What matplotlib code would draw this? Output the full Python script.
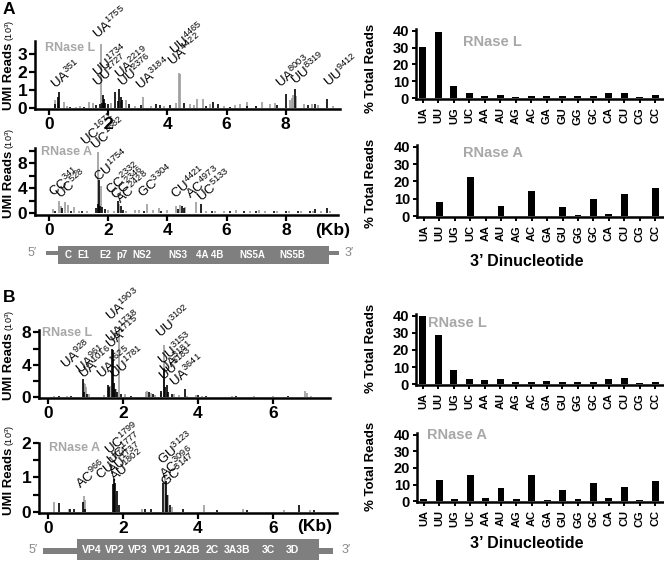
import matplotlib
matplotlib.use("Agg")
import matplotlib.pyplot as plt
from matplotlib.patches import Rectangle

plt.rcParams['font.family'] = ['Liberation Sans', 'DejaVu Sans']
plt.rcParams['mathtext.fontset'] = 'custom'
plt.rcParams['mathtext.rm'] = 'Liberation Sans'
plt.rcParams['mathtext.it'] = 'Liberation Sans'
plt.rcParams['mathtext.bf'] = 'Liberation Sans:bold'

# ---------------- data ----------------
dinucleotides = ['UA', 'UU', 'UG', 'UC', 'AA', 'AU', 'AG', 'AC',
                 'GA', 'GU', 'GG', 'GC', 'CA', 'CU', 'CG', 'CC']
hcv_rnasel_pct = [30.5, 39, 7, 3, 1.2, 2, 0.6, 1, 1, 1.5, 1, 1.2, 3.2, 3, 0.6, 2]
hcv_rnasea_pct = [0.2, 8, 0.2, 22.5, 0.2, 6, 0.2, 14.5, 0.2, 5.5, 0.8, 9.8, 1.5, 12.5, 0.3, 16.2]
pv_rnasel_pct = [40, 28.5, 8, 2.8, 2.2, 3.2, 1, 1.5, 1.8, 1, 1, 1, 3.2, 3.8, 0.5, 1.5]
pv_rnasea_pct = [1.2, 13, 1.2, 16, 2.2, 8, 1.5, 15.8, 1, 7, 1.2, 10.8, 2.2, 8.8, 0.5, 12]

# HCV, RNase L (UMI reads, 10^3)
hcv_L_gray_kb = [0.2, 0.3, 0.5, 0.62, 0.9, 1.05, 1.35, 1.5, 1.755, 2.1, 2.45, 2.6, 2.9, 3.18, 3.45,
                 3.9, 4.3, 4.40, 4.44, 4.75, 4.9, 5.0, 5.2, 5.45, 5.9, 6.3, 6.45, 6.7, 7.0, 7.2,
                 7.45, 7.65, 8.15, 8.2, 8.25, 8.35, 8.6, 8.9, 9.1, 9.6]
hcv_L_gray_reads = [0.45, 0.3, 0.35, 0.1, 0.08, 0.1, 0.35, 0.3, 3.55, 0.3, 0.35, 0.45, 0.12, 0.6, 0.1,
                    0.1, 0.3, 1.95, 1.9, 0.25, 0.15, 0.5, 0.5, 0.2, 0.12, 0.15, 0.2, 0.35, 0.12, 0.35,
                    0.25, 0.3, 0.45, 0.55, 0.7, 0.65, 0.2, 0.25, 0.15, 0.1]
hcv_L_black_kb = [0.22, 0.3, 0.35, 0.7, 1.2, 1.6, 1.73, 1.78, 1.82, 1.86, 1.9, 2.0, 2.22, 2.32, 2.38,
                  2.42, 2.48, 2.7, 3.1, 3.6, 3.75, 4.1, 4.55, 5.3, 5.55, 5.7, 6.1, 6.7, 7.0, 7.7,
                  8.0, 8.3, 8.75, 9.0, 9.4]
hcv_L_black_reads = [0.2, 0.6, 0.9, 0.08, 0.08, 0.15, 0.25, 0.3, 0.75, 0.5, 0.3, 0.25, 0.9, 0.4, 1.05,
                     0.6, 0.45, 0.2, 0.15, 0.2, 0.15, 0.15, 0.3, 0.1, 0.35, 0.25, 0.08, 0.1, 0.1, 0.15,
                     0.8, 1.05, 0.15, 0.2, 0.5]

# HCV, RNase A
hcv_A_gray_kb = [0.15, 0.34, 0.42, 0.53, 0.65, 0.85, 1.0, 1.3, 1.671, 1.75, 2.0, 2.2, 2.35, 2.6, 2.9,
                 3.05, 3.3, 3.5, 3.7, 4.0, 4.3, 4.42, 4.6, 4.97, 5.3, 5.6, 5.9, 6.3, 6.8, 7.1,
                 7.3, 7.7, 8.1, 8.5, 8.9, 9.2, 9.5]
hcv_A_gray_reads = [0.6, 1.9, 1.2, 1.7, 1.3, 0.9, 0.4, 0.3, 9.8, 4.3, 0.5, 0.4, 1.5, 0.4, 0.5,
                    0.5, 1.5, 0.5, 0.8, 0.5, 1.1, 1.3, 1.0, 1.8, 0.4, 0.4, 0.3, 0.5, 0.4, 0.5,
                    0.4, 0.4, 0.3, 0.3, 0.4, 0.3, 0.3]
hcv_A_black_kb = [0.2, 0.45, 0.75, 1.1, 1.6, 1.65, 1.69, 1.72, 1.8, 1.9, 2.33, 2.43, 2.5, 3.2, 3.8,
                  4.35, 4.5, 4.55, 5.13, 5.5, 6.1, 6.6, 7.0, 7.6, 8.0, 8.4, 8.8, 9.0, 9.4]
hcv_A_black_reads = [0.3, 0.8, 0.4, 0.3, 0.8, 1.4, 5.3, 1.2, 0.9, 0.6, 2.0, 1.2, 0.5, 0.4, 0.3,
                     0.6, 1.2, 0.8, 1.5, 0.3, 0.3, 0.3, 0.3, 0.4, 0.3, 0.4, 0.3, 0.6, 0.8]

# Poliovirus, RNase L
pv_L_gray_kb = [0.15, 0.5, 0.96, 0.99, 1.02, 1.1, 1.5, 1.65, 1.8, 1.9, 2.05, 2.6, 2.65, 2.75, 2.85,
                3.02, 3.1, 3.35, 3.5, 3.7, 3.95, 4.1, 4.9, 5.5, 6.0, 6.85, 6.9, 7.0]
pv_L_gray_reads = [0.2, 0.15, 1.7, 1.6, 1.3, 0.4, 0.3, 1.4, 1.0, 8.2, 0.4, 0.7, 0.8, 0.5, 0.3,
                   0.5, 6.5, 0.4, 0.3, 0.2, 0.3, 0.2, 0.15, 0.15, 0.1, 0.8, 0.5, 0.2]
pv_L_black_kb = [0.3, 0.6, 0.93, 0.97, 1.05, 1.6, 1.63, 1.70, 1.74, 1.76, 1.78, 1.85, 1.95, 2.2, 2.7,
                 2.8, 3.0, 3.1, 3.13, 3.18, 3.2, 3.3, 3.64, 4.0, 4.2, 5.0, 6.4]
pv_L_black_reads = [0.1, 0.1, 2.2, 0.6, 0.4, 1.5, 1.3, 6.0, 5.8, 1.8, 1.0, 0.7, 0.4, 0.2, 0.6,
                    0.4, 0.8, 3.5, 1.2, 1.5, 0.7, 0.4, 1.0, 0.25, 0.15, 0.1, 0.1]

# Poliovirus, RNase A
pv_A_gray_kb = [0.15, 0.55, 0.97, 1.0, 1.75, 1.8, 2.5, 3.12, 3.2, 3.3, 4.15, 5.2, 6.3, 7.0]
pv_A_gray_reads = [0.28, 0.08, 0.45, 0.35, 0.7, 0.5, 0.08, 1.08, 0.5, 0.15, 0.2, 0.08, 0.05, 0.05]
pv_A_black_kb = [0.3, 0.6, 0.7, 0.93, 1.0, 1.74, 1.77, 1.8, 1.84, 1.9, 2.6, 2.75, 3.08, 3.15, 3.18,
                 3.25, 3.6, 4.5, 5.3, 6.7, 7.1]
pv_A_black_reads = [0.27, 0.1, 0.08, 0.3, 0.1, 0.8, 0.95, 0.85, 0.6, 0.2, 0.1, 0.08, 0.85, 0.9, 0.5,
                    0.2, 0.1, 0.06, 0.06, 0.2, 0.05]

hcv_regions = ['C', 'E1', 'E2', 'p7', 'NS2', 'NS3', '4A 4B', 'NS5A', 'NS5B']
hcv_region_kb = [0.64, 1.15, 1.89, 2.47, 3.14, 4.36, 5.44, 6.86, 8.21]
pv_regions = ['VP4', 'VP2', 'VP3', 'VP1', '2A2B', '2C', '3A3B', '3C', '3D']
pv_region_kb = [1.17, 1.79, 2.4, 3.04, 3.71, 4.37, 5.04, 5.87, 6.53]

# ---------------- layout helpers ----------------
W, H = 664, 562
fig = plt.figure(figsize=(W / 100, H / 100), dpi=100)
GRAY = '#9c9c9c'
LIGHT = '#a8a8a8'
GENOME = '#7f7f7f'


def add_ax(l, t, r, b):
    return fig.add_axes([l / W, 1 - b / H, (r - l) / W, (b - t) / H])


def ftext(x, y, s, **kw):
    return fig.text(x / W, 1 - y / H, s, **kw)


def style(ax, lw=1.8):
    for s in ['top', 'right']:
        ax.spines[s].set_visible(False)
    for s in ['left', 'bottom']:
        ax.spines[s].set_linewidth(lw)


def spike_panel(rect, xlim, ylim, gpos, gh, bpos, bh, yt, ylab, xt, title, tpx, annots, ylab_bottom):
    ax = add_ax(*rect)
    ax.vlines(gpos, 0, gh, colors=GRAY, lw=1.2)
    ax.vlines(bpos, 0, bh, colors='black', lw=1.2)
    ax.set_xlim(*xlim)
    ax.set_ylim(*ylim)
    style(ax)
    ax.set_yticks(yt)
    ax.set_yticklabels([str(v) if v in ylab else '' for v in yt])
    ax.set_xticks(xt)
    ax.set_xticklabels([str(v) for v in xt])
    ax.tick_params(labelsize=12.5, width=1.6, length=4, pad=1.5)
    for lb in ax.get_xticklabels() + ax.get_yticklabels():
        lb.set_fontweight('bold')
    ftext(tpx[0], tpx[1], title, color=LIGHT, fontsize=9, fontweight='bold', va='center', ha='left')
    for (s, x, y) in annots:
        ax.text(x, y, s, rotation=40, rotation_mode='anchor', ha='left', va='bottom',
                fontsize=9.5, clip_on=False)
    t1 = ftext(9, ylab_bottom, 'UMI Reads', rotation=90, ha='center', va='bottom',
               fontsize=9.5, fontweight='bold')
    fig.canvas.draw()
    bb = t1.get_window_extent()
    fig.text(10 / W, (bb.y1 + 2) / H, '(10$^{\\mathregular{3}}$)', rotation=90, ha='center',
             va='bottom', fontsize=6.5)
    return ax


def bar_panel(rect, vals, ylim, title, tpx, ylab_cy, xlabel=None, xlabel_y=None):
    ax = add_ax(*rect)
    x = list(range(len(dinucleotides)))
    ax.bar(x, vals, width=0.45, color='black')
    ax.set_xlim(-0.45, 15.58)
    ax.set_ylim(*ylim)
    style(ax)
    ax.set_yticks([0, 10, 20, 30, 40])
    ax.set_xticks(x)
    ax.set_xticklabels(dinucleotides, rotation=90, fontsize=8, fontweight='bold')
    ax.tick_params(axis='x', length=3, width=1.4, pad=3)
    ax.tick_params(axis='y', length=3, width=1.4, labelsize=10.5, pad=2)
    for lb in ax.get_yticklabels():
        lb.set_fontweight('bold')
    ftext(tpx[0], tpx[1], title, color=LIGHT, fontsize=10.5, fontweight='bold', va='center', ha='left')
    ftext(371, ylab_cy, '% Total Reads', rotation=90, ha='center', va='center',
          fontsize=9.5, fontweight='bold')
    if xlabel:
        ftext(527, xlabel_y, xlabel, ha='center', va='center', fontsize=11.5, fontweight='bold')
    return ax


def genome(rect, xlim, line_kb, box_kb, names, centers, line_y, box_y, fs, p5, p3, cy):
    ax = add_ax(*rect)
    ax.set_xlim(*xlim)
    ax.set_ylim(0, 1)
    ax.axis('off')
    ax.add_patch(Rectangle((line_kb[0], line_y[0]), line_kb[1] - line_kb[0], line_y[1] - line_y[0],
                           color=GENOME, lw=0))
    ax.add_patch(Rectangle((box_kb[0], box_y[0]), box_kb[1] - box_kb[0], box_y[1] - box_y[0],
                           color=GENOME, lw=0))
    for n, c in zip(names, centers):
        ax.text(c, (box_y[0] + box_y[1]) / 2, n, color='white', fontsize=fs, fontweight='bold',
                ha='center', va='center')
    ftext(p5, cy, "5\u2032", color='#8a8a8a', fontsize=9, ha='center', va='center')
    ftext(p3, cy, "3\u2032", color='#8a8a8a', fontsize=9, ha='center', va='center')


def sup(name, num):
    return name + '$^{\\mathregular{' + str(num) + '}}$'


# ---------------- Panel A ----------------
ftext(3, 10, 'A', fontsize=12.5, fontweight='bold', va='center', ha='left')
annA1 = [(sup('UA', 351), 0.3, 0.9), (sup('UA', 1755), 1.72, 3.7), (sup('UU', 1734), 1.72, 1.55),
         (sup('UU', 1727), 1.72, 1.0), (sup('UA', 2219), 2.47, 1.45), (sup('UU', 2376), 2.57, 1.0),
         (sup('UA', 3184), 3.18, 0.83), (sup('UU', 4465), 4.32, 2.78), (sup('UA', 4422), 4.26, 2.2),
         (sup('UA', 8003), 7.9, 0.95), (sup('UU', 8319), 8.4, 1.15), (sup('UU', 9412), 9.5, 1.0)]
spike_panel((35, 41, 340, 109), (-0.47, 9.83), (-0.05, 3.72),
            hcv_L_gray_kb, hcv_L_gray_reads, hcv_L_black_kb, hcv_L_black_reads,
            [0, 1, 2, 3], [0, 1, 2, 3], [0, 2, 4, 6, 8], 'RNase L', (45, 48), annA1, 110)

annA2 = [(sup('UC', 1671), 1.32, 10.2), (sup('UC', 1682), 1.65, 9.6), (sup('CU', 1754), 1.76, 4.5),
         (sup('CC', 341), 0.24, 2.2), (sup('UC', 528), 0.47, 1.75), (sup('CC', 2332), 2.16, 2.4),
         (sup('CC', 2346), 2.33, 1.6), (sup('AC', 2428), 2.5, 1.0), (sup('GC', 3304), 3.24, 1.9),
         (sup('CU', 4421), 4.36, 1.76), (sup('AC', 4973), 4.86, 1.76), (sup('UC', 5133), 5.24, 1.3)]
spike_panel((35, 148, 338, 215), (-0.47, 9.76), (-0.3, 10.4),
            hcv_A_gray_kb, hcv_A_gray_reads, hcv_A_black_kb, hcv_A_black_reads,
            [0, 2, 4, 6, 8, 10], [0, 4, 8], [0, 2, 4, 6, 8], 'RNase A', (41, 152), annA2, 218)
ftext(333, 230, '(Kb)', fontsize=12.5, fontweight='bold', ha='center', va='center')

genome((35, 244, 340, 266), (-0.47, 9.83), (-0.1, 9.8), (0.3, 9.45), hcv_regions, hcv_region_kb,
       (0.48, 0.70), (0.09, 0.91), 7, 32, 349, 253)

bar_panel((416, 29, 664, 99), hcv_rnasel_pct, (-0.5, 41), 'RNase L', (463, 42), 68)
bar_panel((417, 145, 664, 217), hcv_rnasea_pct, (-0.5, 41), 'RNase A', (463, 153), 183,
          "3\u2019 Dinucleotide", 262)

# ---------------- Panel B ----------------
ftext(3, 297, 'B', fontsize=12.5, fontweight='bold', va='center', ha='left')
annB1 = [(sup('UA', 928), 0.53, 3.1), (sup('UA', 961), 0.93, 2.5), (sup('UA', 1016), 1.01, 1.85),
         (sup('UA', 1625), 1.49, 1.85), (sup('UU', 1781), 1.84, 1.85), (sup('UA', 1903), 1.73, 9.1),
         (sup('UA', 1738), 1.73, 6.4), (sup('UA', 1715), 1.73, 5.6), (sup('UU', 3102), 3.07, 7.0),
         (sup('UU', 3153), 3.12, 3.6), (sup('UA', 3181), 3.17, 2.5), (sup('UU', 3183), 3.15, 1.6),
         (sup('UA', 3641), 3.44, 0.9)]
spike_panel((39, 330, 330, 398), (-0.24, 7.52), (-0.1, 8.3),
            pv_L_gray_kb, pv_L_gray_reads, pv_L_black_kb, pv_L_black_reads,
            [0, 2, 4, 6, 8], [0, 4, 8], [0, 2, 4, 6], 'RNase L', (42, 333), annB1, 400)

annB2 = [(sup('AC', 966), 0.93, 0.6), (sup('CU', 1774), 1.47, 0.84), (sup('UC', 1799), 1.7, 1.56),
         (sup('UC', 1777), 1.74, 1.27), (sup('AU', 1737), 1.79, 1.0), (sup('AU', 1802), 1.84, 0.78),
         (sup('GU', 3123), 3.12, 1.27), (sup('AC', 3096), 3.17, 0.87), (sup('GC', 3147), 3.2, 0.64)]
spike_panel((39, 443, 337, 513), (-0.24, 7.71), (-0.03, 2.0),
            pv_A_gray_kb, pv_A_gray_reads, pv_A_black_kb, pv_A_black_reads,
            [0, 0.5, 1, 1.5, 2], [0, 1, 2], [0, 2, 4, 6], 'RNase A', (49, 448), annB2, 515)
ftext(315, 527, '(Kb)', fontsize=12.5, fontweight='bold', ha='center', va='center')

genome((39, 536, 337, 562), (-0.24, 7.71), (-0.13, 7.6), (0.77, 7.23), pv_regions, pv_region_kb,
       (0.31, 0.54), (0.08, 0.88), 7.5, 33, 346, 550)

bar_panel((416, 314, 664, 385), pv_rnasel_pct, (-0.5, 41), 'RNase L', (428, 323), 348)
bar_panel((417, 433, 664, 502), pv_rnasea_pct, (-0.5, 41), 'RNase A', (427, 435), 466,
          "3\u2019 Dinucleotide", 543)

fig.savefig('out.png', dpi=100)
